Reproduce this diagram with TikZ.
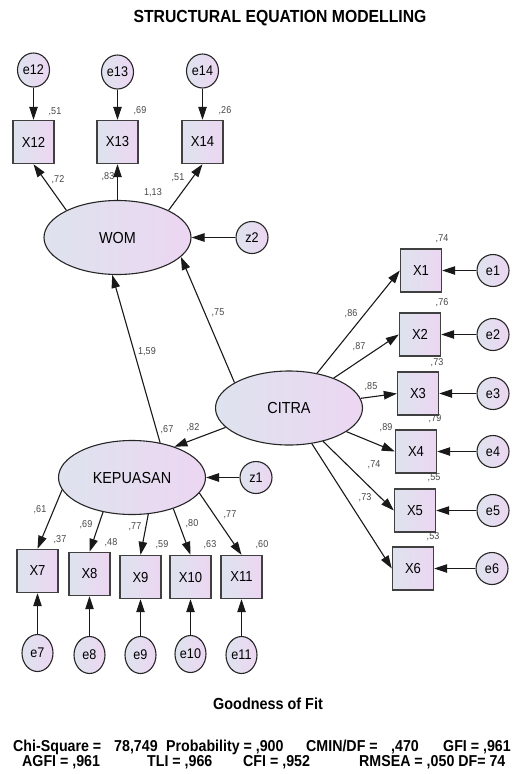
\documentclass[tikz,border=0pt]{standalone}
\usepackage{fontspec}
\newfontfamily\nf{Liberation Sans}[FakeStretch=0.9]
\usetikzlibrary{arrows.meta,shapes.geometric}
\definecolor{shL}{RGB}{222,227,238}
\definecolor{shR}{RGB}{236,214,242}
\definecolor{lblc}{RGB}{70,70,70}
\tikzset{
 lat/.style={ellipse, draw=black!85, line width=1.1pt, left color=shL, right color=shR, minimum width=147pt, minimum height=74pt, inner sep=0pt, font=\nf\fontsize{16}{16}\selectfont},
 obs/.style={rectangle, draw=black!75, line width=1.4pt, left color=shL, right color=shR, minimum width=41pt, minimum height=43pt, inner sep=0pt, font=\nf\fontsize{14.5}{14.5}\selectfont},
 err/.style={ellipse, draw=black!85, line width=1.1pt, left color=shL, right color=shR, minimum width=32pt, minimum height=34pt, inner sep=0pt, font=\nf\fontsize{14}{14}\selectfont},
 lbl/.style={inner sep=0pt, text=lblc, font=\nf\fontsize{10}{10}\selectfont},
 arr/.style={draw=black!90, line width=1.1pt, -{Triangle[length=13pt,width=8.5pt]}},
 fit/.style={anchor=base west, inner sep=0pt, font=\nf\bfseries\fontsize{15.8}{15.8}\selectfont},
}
\begin{document}
\begin{tikzpicture}[x=1pt,y=-1pt]
\useasboundingbox (0,0) rectangle (525,774);
\node[inner sep=0pt, font=\nf\bfseries\fontsize{17.5}{17.5}\selectfont] (title) at (280,18) {STRUCTURAL EQUATION MODELLING};

% WOM block
\node[err] (e12) at (33.5,70) {e12};
\node[err] (e13) at (117.5,72) {e13};
\node[err] (e14) at (202.5,71) {e14};
\node[obs] (x12) at (33.5,142) {X12};
\node[obs] (x13) at (117.5,142) {X13};
\node[obs] (x14) at (202.5,142) {X14};
\node[lat] (wom) at (117.5,237.5) {WOM};
\node[err, minimum height=32pt] (z2) at (252,237.5) {z2};

\node[lbl] (l51) at (55,112) {,51};
\node[lbl] (l69) at (140,111) {,69};
\node[lbl] (l26) at (225,111) {,26};
\node[lbl] (l72) at (58,180) {,72};
\node[lbl] (l83) at (108,177) {,83};
\node[lbl] (l51b) at (178,178) {,51};
\node[lbl] (l113) at (153,193) {1,13};

\draw[arr] (e12) -- (x12);
\draw[arr] (e13) -- (x13);
\draw[arr] (e14) -- (x14);
\draw[arr] (wom.152.8) -- (x12.south);
\draw[arr] (wom.north) -- (x13.south);
\draw[arr] (wom.28) -- (x14.south);
\draw[arr] (z2) -- (wom);

% CITRA block
\node[lat] (citra) at (289,408) {CITRA};
\node[obs] (x1) at (421,270.5) {X1};
\node[obs] (x2) at (420,334.5) {X2};
\node[obs] (x3) at (418,393.5) {X3};
\node[obs] (x4) at (416,451.5) {X4};
\node[obs] (x5) at (415,510.5) {X5};
\node[obs] (x6) at (413,568.5) {X6};
\node[err, minimum height=32pt] (e1) at (493,270.5) {e1};
\node[err, minimum height=32pt] (e2) at (493,334.5) {e2};
\node[err, minimum height=32pt] (e3) at (493,393.5) {e3};
\node[err, minimum height=32pt] (e4) at (493,451.5) {e4};
\node[err, minimum height=32pt] (e5) at (493,510.5) {e5};
\node[err, minimum height=32pt] (e6) at (492,568.5) {e6};

\node[lbl] (r74) at (442,239) {,74};
\node[lbl] (r76) at (442,303) {,76};
\node[lbl] (r73) at (437,363) {,73};
\node[lbl] (r79) at (435,419) {,79};
\node[lbl] (r55) at (434,478) {,55};
\node[lbl] (r53) at (433,537) {,53};
\node[lbl] (p86) at (351,314) {,86};
\node[lbl] (p87) at (359,347) {,87};
\node[lbl] (p85) at (371,387) {,85};
\node[lbl] (p89) at (386,428) {,89};
\node[lbl] (p74) at (374,465) {,74};
\node[lbl] (p73) at (365,498) {,73};

\foreach \i in {1,...,6} {
  \draw[arr] (citra) -- (x\i.west);
  \draw[arr] (e\i) -- (x\i);
}

% structural paths
\node[lbl] (l75) at (218,313) {,75};
\node[lbl] (l159) at (147,352) {1,59};
\node[lbl] (l82) at (193,428) {,82};
\node[lbl] (l67) at (167,430) {,67};

% KEPUASAN block
\node[lat] (kep) at (132,477.5) {KEPUASAN};
\node[err, minimum height=32pt] (z1) at (256,477.5) {z1};
\node[obs] (x7) at (37.5,571) {X7};
\node[obs] (x8) at (89.5,574) {X8};
\node[obs] (x9) at (140.5,577) {X9};
\node[obs] (x10) at (190.5,577) {X10};
\node[obs] (x11) at (241.5,577) {X11};
\node[err, minimum width=31pt, minimum height=37pt] (e7) at (37.5,653) {e7};
\node[err, minimum width=31pt, minimum height=37pt] (e8) at (89.5,655) {e8};
\node[err, minimum width=31pt, minimum height=37pt] (e9) at (140.5,655) {e9};
\node[err, minimum width=31pt, minimum height=37pt] (e10) at (190.5,654) {e10};
\node[err, minimum width=31pt, minimum height=37pt] (e11) at (241.5,655) {e11};

\node[lbl] (k61) at (40,510) {,61};
\node[lbl] (k37) at (60,540) {,37};
\node[lbl] (k69) at (86,525) {,69};
\node[lbl] (k48) at (111,543) {,48};
\node[lbl] (k77) at (135,527) {,77};
\node[lbl] (k59) at (162,545) {,59};
\node[lbl] (k80) at (192,524) {,80};
\node[lbl] (k63) at (210,545) {,63};
\node[lbl] (k77b) at (230,515) {,77};
\node[lbl] (k60) at (262,545) {,60};

\draw[arr] (kep.190) -- (x7.north);
\draw[arr] (kep.230) -- (x8.north);
\draw[arr] (kep.294) -- (x9.north);
\draw[arr] (kep.323) -- (x10.north);
\draw[arr] (kep.347) -- (x11.north);
\foreach \i in {7,...,11} { \draw[arr] (e\i) -- (x\i); }
\draw[arr] (z1) -- (kep);

\draw[arr] (citra.197) -- (kep.36);
\draw[arr] (kep.51) -- (wom.262);
\draw[arr] (citra.155) -- (wom.343);

% Goodness of fit
\node[inner sep=0pt, font=\nf\bfseries\fontsize{16}{16}\selectfont] (gof) at (268,704) {Goodness of Fit};
\node[fit] (f1) at (13,751) {Chi-Square =};
\node[fit] (f2) at (114,751) {78,749};
\node[fit] (f3) at (166,751) {Probability = ,900};
\node[fit] (f4) at (306,751) {CMIN/DF =};
\node[fit] (f5) at (391,751) {,470};
\node[fit] (f6) at (443,751) {GFI = ,961};
\node[fit] (g1) at (22,766) {AGFI = ,961};
\node[fit] (g2) at (147,766) {TLI = ,966};
\node[fit] (g3) at (243,766) {CFI = ,952};
\node[fit] (g4) at (359,766) {RMSEA = ,050 DF= 74};
\end{tikzpicture}
\end{document}
